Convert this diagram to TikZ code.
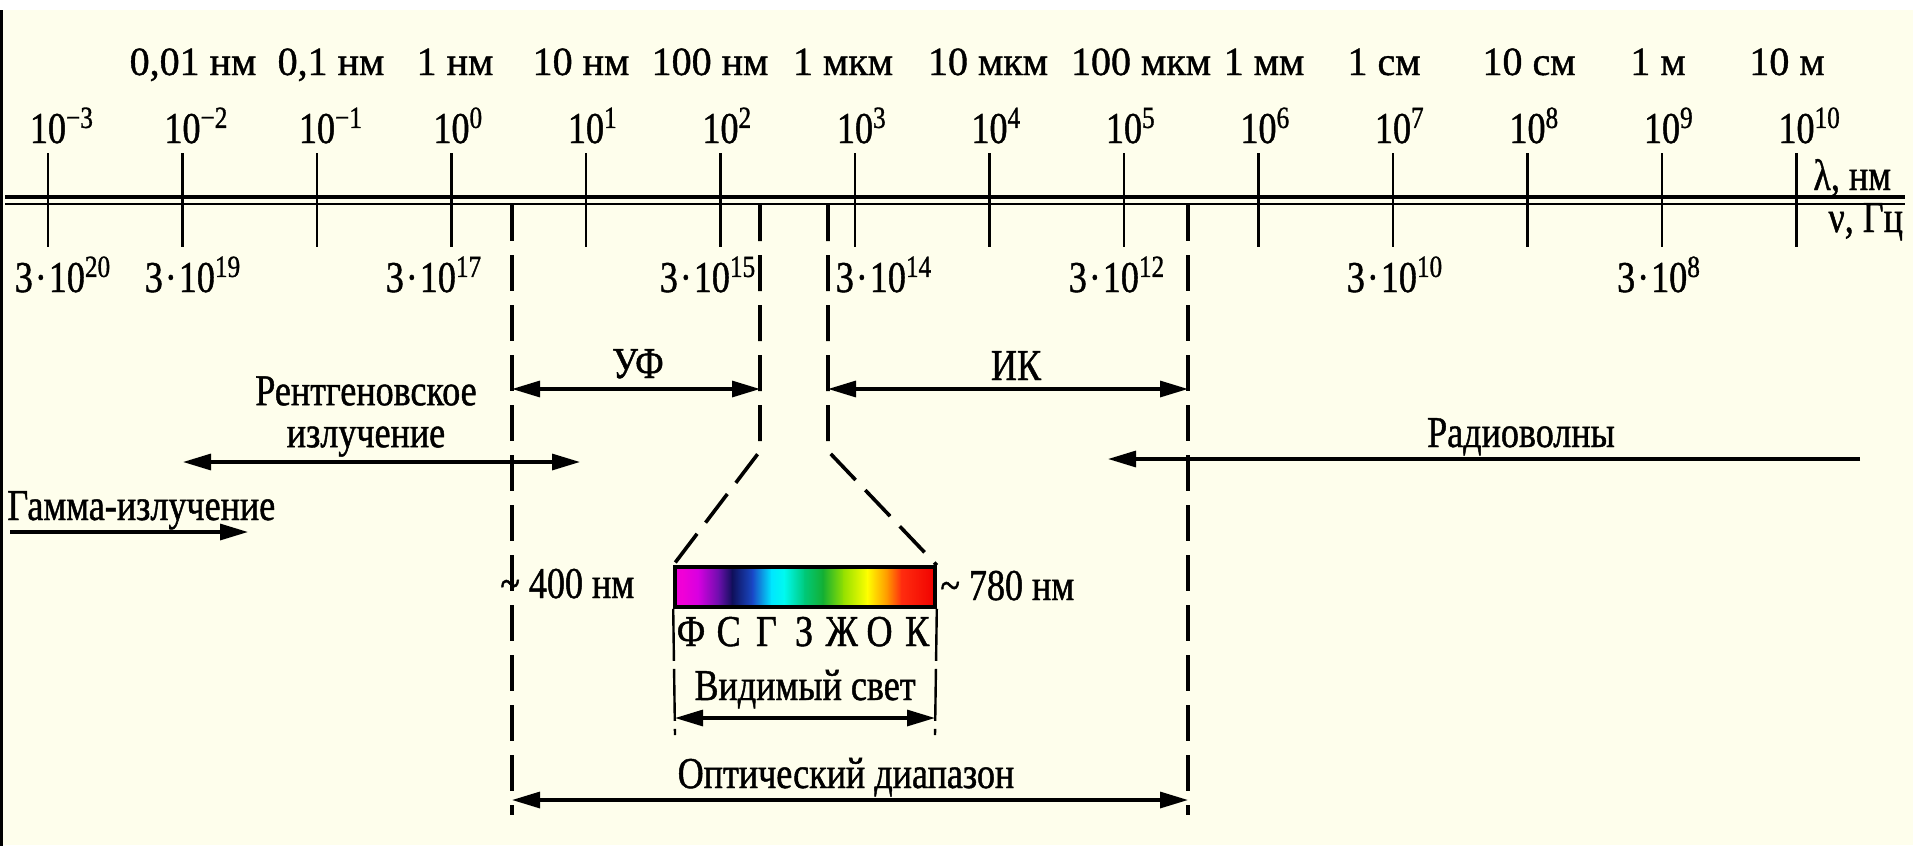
\documentclass[tikz,border=0pt]{standalone}
\usepackage{fontspec}
\setmainfont{Liberation Serif}[FakeStretch=0.82, FakeBold=1]
\newfontfamily\unitfont{Liberation Serif}[FakeBold=1]
\usetikzlibrary{arrows.meta}

\definecolor{paper}{RGB}{254,254,236}
% spectrum colours, violet to red
\definecolor{sp0}{RGB}{240,0,215}
\definecolor{sp1}{RGB}{215,0,225}
\definecolor{sp2}{RGB}{105,15,170}
\definecolor{sp3}{RGB}{15,15,90}
\definecolor{sp4}{RGB}{25,75,200}
\definecolor{sp5}{RGB}{0,230,255}
\definecolor{sp6}{RGB}{0,250,240}
\definecolor{sp7}{RGB}{0,200,120}
\definecolor{sp8}{RGB}{20,175,50}
\definecolor{sp9}{RGB}{150,225,0}
\definecolor{sp10}{RGB}{255,255,0}
\definecolor{sp11}{RGB}{255,145,0}
\definecolor{sp12}{RGB}{255,45,15}
\definecolor{sp13}{RGB}{240,0,0}

\newcommand{\tenpow}[1]{10\rlap{\textsuperscript{#1}}}
\newcommand{\threepow}[1]{3\kern1pt·\kern1pt10\textsuperscript{#1}}

\begin{document}
\begin{tikzpicture}[x=0.5pt, y=-0.5pt,
    every node/.style={inner sep=0pt, font=\fontsize{22}{26}\selectfont},
    unitlbl/.style={anchor=base, font=\unitfont\fontsize{20}{24}\selectfont},
    scaletick/.style={line width=1.4pt},
    boundary/.style={line width=1.8pt, dash pattern=on 18pt off 7pt},
    spanarrow/.style={line width=1.6pt, {Triangle[length=14pt,width=8pt]}-{Triangle[length=14pt,width=8pt]}},
    oneway/.style={line width=1.6pt, -{Triangle[length=14pt,width=8pt]}}]
    \useasboundingbox (0,0) rectangle (1915,851);
    \fill[white] (0,0) rectangle (1915,851);
    \fill[paper] (3,10) rectangle (1913,845);
    \draw[line width=1.5pt] (1.5,10) -- (1.5,846);

    % double axis
    \draw[line width=2.4pt] (5,197) -- (1905,197);
    \draw[line width=1.2pt] (5,204) -- (1905,204);
    \foreach \i in {0,...,13}
        \draw[scaletick] ({48+134.5*\i},153) -- ({48+134.5*\i},247);

    % wavelength, nm
    \foreach \i/\e in {0/\textminus3, 1/\textminus2, 2/\textminus1, 3/0, 4/1, 5/2, 6/3,
                       7/4, 8/5, 9/6, 10/7, 11/8, 12/9, 13/10}
        \node[anchor=base] (p\i) at ({48+134.5*\i},143) {\tenpow{\e}};
    \foreach \x/\t [count=\k] in {193/{0,01 нм}, 331/{0,1 нм}, 455/{1 нм}, 581/{10 нм},
                                 710/{100 нм}, 843/{1 мкм}, 988/{10 мкм}, 1141/{100 мкм},
                                 1264/{1 мм}, 1384/{1 см}, 1529/{10 см}, 1658/{1 м}, 1787/{10 м}}
        \node[unitlbl] (u\k) at (\x,75) {\t};
    % frequency, Hz
    \foreach \x/\e [count=\k] in {63/20, 193/19, 434/17, 708/15, 884/14, 1117/12, 1395/10, 1659/8}
        \node[anchor=base] (f\k) at (\x,292) {\threepow{\e}};
    \node[anchor=base west] (lam) at (1813,190) {λ, нм};
    \node[anchor=base west] (nu) at (1828,232) {ν, Гц};

    % visible spectrum
    \foreach \a/\b/\ca/\cb in {0/.03/sp0/sp0, .03/.09/sp0/sp1, .09/.17/sp1/sp2, .17/.22/sp2/sp3,
                               .22/.30/sp3/sp4, .30/.37/sp4/sp5, .37/.42/sp5/sp6, .42/.50/sp6/sp7,
                               .50/.57/sp7/sp8, .57/.65/sp8/sp9, .65/.74/sp9/sp10, .74/.82/sp10/sp11,
                               .82/.87/sp11/sp12, .87/1/sp12/sp13}
        \fill[left color=\ca, right color=\cb] ({675+260*\a-0.4},567) rectangle ({675+260*\b+0.4},607);
    \node[draw, line width=1.8pt, minimum width=130pt, minimum height=20pt] (spectrum) at (805,587) {};
    \foreach \c [count=\k] in {Ф,С,Г,З,Ж,О,К}
        \node[anchor=base] (col\k) at ({691+37.7*(\k-1)},646) {\c};

    % boundaries
    \coordinate (b400) at (512,205);
    \coordinate (b400end) at (512,815);
    \coordinate (bir) at (1188,205);
    \coordinate (birend) at (1188,815);
    \coordinate (fnL) at (760,205);
    \coordinate (fnLbend) at (760,451);
    \coordinate (fnR) at (828,205);
    \coordinate (fnRbend) at (828,451);
    \draw[boundary] (b400) -- (b400end);
    \draw[boundary] (bir) -- (birend);
    \draw[boundary] (fnL) -- (fnLbend) -- (spectrum.north west);
    \draw[boundary] (fnR) -- (fnRbend) -- (spectrum.north east);
    \coordinate (visLend) at (675,735);
    \coordinate (visRend) at (935,735);
    \draw[line width=1.2pt, dash pattern=on 26pt off 4pt] (spectrum.south west) -- (visLend);
    \draw[line width=1.2pt, dash pattern=on 26pt off 4pt] (spectrum.south east) -- (visRend);

    % ranges
    \coordinate (uvL) at (512,389);
    \coordinate (uvR) at (760,389);
    \coordinate (irL) at (828,389);
    \coordinate (irR) at (1188,389);
    \coordinate (xrL) at (183,462);
    \coordinate (xrR) at (580,462);
    \coordinate (gmL) at (10,532);
    \coordinate (gmR) at (248,532);
    \coordinate (rdL) at (1108,459);
    \coordinate (rdR) at (1860,459);
    \coordinate (visL) at (675,718);
    \coordinate (visR) at (935,718);
    \coordinate (optL) at (512,800);
    \coordinate (optR) at (1188,800);
    \draw[spanarrow] (uvL) -- (uvR);
    \draw[spanarrow] (irL) -- (irR);
    \draw[spanarrow] (xrL) -- (xrR);
    \draw[oneway] (gmL) -- (gmR);
    \draw[oneway] (rdR) -- (rdL);
    \draw[spanarrow] (visL) -- (visR);
    \draw[spanarrow] (optL) -- (optR);

    \node[anchor=base] (uv) at (638,378) {УФ};
    \node[anchor=base] (ir) at (1016,380) {ИК};
    \node[anchor=north, align=center, font=\fontsize{22}{21}\selectfont] (xray) at (366,376)
        {Рентгеновское\\излучение};
    \node[anchor=base west] (gamma) at (7,520) {Гамма-излучение};
    \node[anchor=base] (radio) at (1521,447) {Радиоволны};
    \node[anchor=base west] (l400) at (500,598) {\textasciitilde\ 400 нм};
    \node[anchor=base west] (l780) at (940,600) {\textasciitilde\ 780 нм};
    \node[anchor=base] (vis) at (805,700) {Видимый свет};
    \node[anchor=base] (opt) at (846,788) {Оптический диапазон};
\end{tikzpicture}
\end{document}
